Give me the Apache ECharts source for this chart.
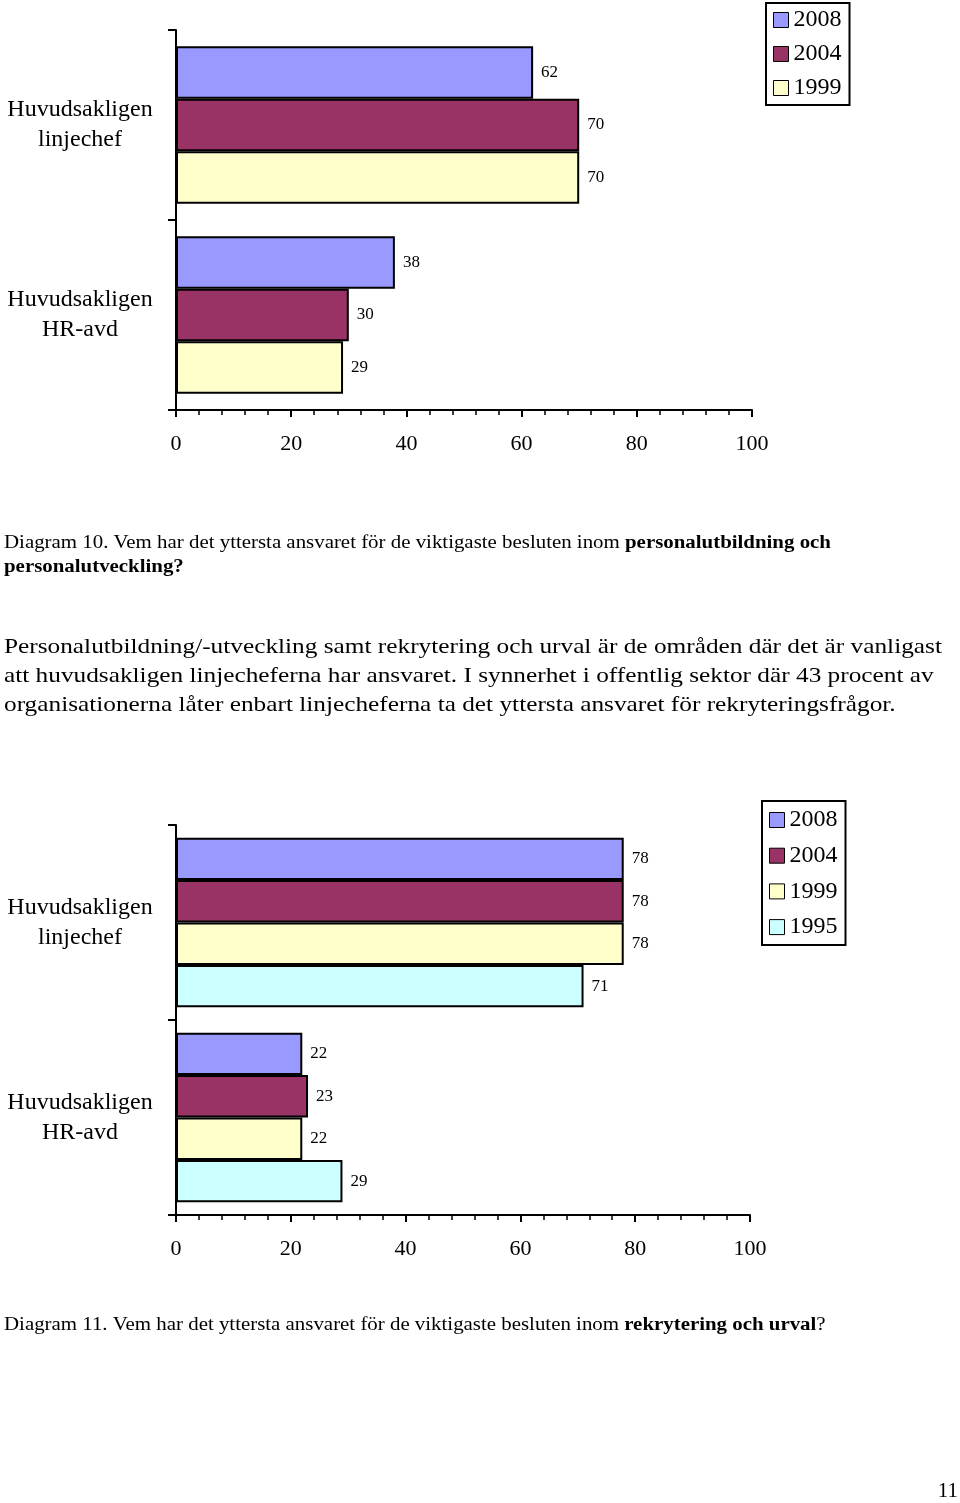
<!DOCTYPE html>
<html><head><meta charset="utf-8">
<script src="https://cdn.jsdelivr.net/npm/echarts@6/dist/echarts.min.js"></script>
<style>html,body{margin:0;padding:0;background:#fff}#c{width:960px;height:1503px}</style>
</head><body><div id="c"></div>
<script>
const categories = ['Huvudsakligen\nlinjechef', 'Huvudsakligen\nHR-avd'];
// Diagram 10
const d10_2008 = [62, 38];
const d10_2004 = [70, 30];
const d10_1999 = [70, 29];
// Diagram 11
const d11_2008 = [78, 22];
const d11_2004 = [78, 23];
const d11_1999 = [78, 22];
const d11_1995 = [71, 29];
const years10 = ['2008', '2004', '1999'];
const years11 = ['2008', '2004', '1999', '1995'];
const colors = {'2008': '#9999FF', '2004': '#993366', '1999': '#FFFFCC', '1995': '#CCFFFF'};

const FONT = 'Liberation Serif';
const chart = echarts.init(document.getElementById('c'), null, {renderer: 'canvas'});

function xAxisCfg(gi, margin) {
  return {
    type: 'value', gridIndex: gi, min: 0, max: 100, interval: 20,
    axisLine: {show: true, lineStyle: {color: '#000', width: 2}},
    axisTick: {show: true, length: 7, lineStyle: {color: '#000', width: 2}},
    minorTick: {show: true, splitNumber: 5, length: 5, lineStyle: {color: '#000', width: 1.5}},
    splitLine: {show: false},
    axisLabel: {color: '#000', fontFamily: FONT, fontSize: 22, margin: margin}
  };
}
function yAxisCfg(gi) {
  return {
    type: 'category', gridIndex: gi, data: categories, inverse: true,
    axisLine: {show: true, lineStyle: {color: '#000', width: 2}},
    axisTick: {show: true, length: 8, lineStyle: {color: '#000', width: 2}},
    axisLabel: {color: '#000', fontFamily: FONT, fontSize: 24, lineHeight: 30, align: 'center', margin: 96}
  };
}
function barSeries(name, data, gi, gap) {
  return {
    type: 'bar', name: name, data: data, xAxisIndex: gi, yAxisIndex: gi,
    barGap: '0%', barCategoryGap: gap,
    itemStyle: {color: colors[name], borderColor: '#000', borderWidth: 2},
    label: {show: true, position: 'right', distance: 8, color: '#000', fontFamily: FONT, fontSize: 17},
    emphasis: {disabled: true}, animation: false
  };
}
function legendCfg(data, left, top, pad, gap) {
  return {
    data: data, orient: 'vertical', left: left, top: top, padding: pad, itemGap: gap,
    borderColor: '#000', borderWidth: 2, backgroundColor: '#fff',
    icon: 'rect', itemWidth: 15, itemHeight: 15,
    itemStyle: {borderColor: '#000', borderWidth: 1},
    textStyle: {color: '#000', fontFamily: FONT, fontSize: 24}
  };
}
function txt(x, y, text, size, weight, sx, align) {
  return {type: 'text', x: x, y: y, scaleX: sx || 1,
    style: {text: text, fill: '#000', font: (weight || 'normal') + ' ' + size + 'px "' + FONT + '"',
      textVerticalAlign: 'middle', textAlign: align || 'left'}};
}

const series = [];
years10.forEach((y, i) => series.push(barSeries(y, [d10_2008, d10_2004, d10_1999][i], 0, '17%')));
years11.forEach((y, i) => series.push(barSeries(y, [d11_2008, d11_2004, d11_1999, d11_1995][i], 1, '13%')));

const capSize = 18, capSX = 1.16, parSize = 22, parSX = 1.15;
const rich = {n: {fontFamily: FONT, fontSize: capSize, fill: '#000'}, b: {fontFamily: FONT, fontSize: capSize, fontWeight: 'bold', fill: '#000'}};
chart.setOption({
  animation: false,
  grid: [
    {left: 176, top: 30, width: 576, height: 380},
    {left: 176, top: 825, width: 574, height: 390}
  ],
  xAxis: [xAxisCfg(0, 23), xAxisCfg(1, 23)],
  yAxis: [yAxisCfg(0), yAxisCfg(1)],
  legend: [
    legendCfg(years10, 766, 3, [5, 8, 5, 7], 10),
    legendCfg(years11, 762, 801, [7, 8, 6, 7], 11.7)
  ],
  series: series,
  graphic: [
    {type: 'text', x: 4, y: 543, scaleX: capSX, style: {text: '{n|Diagram 10. Vem har det yttersta ansvaret för de viktigaste besluten inom }{b|personalutbildning och}',
      textVerticalAlign: 'middle', rich: rich}},
    txt(4, 567, 'personalutveckling?', capSize, 'bold', capSX),
    txt(4, 647, 'Personalutbildning/-utveckling samt rekrytering och urval är de områden där det är vanligast', parSize, 'normal', parSX),
    txt(4, 676, 'att huvudsakligen linjecheferna har ansvaret. I synnerhet i offentlig sektor där 43 procent av', parSize, 'normal', parSX),
    txt(4, 705, 'organisationerna låter enbart linjecheferna ta det yttersta ansvaret för rekryteringsfrågor.', parSize, 'normal', parSX),
    {type: 'text', x: 4, y: 1325, scaleX: capSX, style: {text: '{n|Diagram 11. Vem har det yttersta ansvaret för de viktigaste besluten inom }{b|rekrytering och urval}{n|?}',
      textVerticalAlign: 'middle', rich: rich}},
    txt(958, 1492, '11', 20, 'normal', 1.05, 'right')
  ]
});
</script></body></html>
